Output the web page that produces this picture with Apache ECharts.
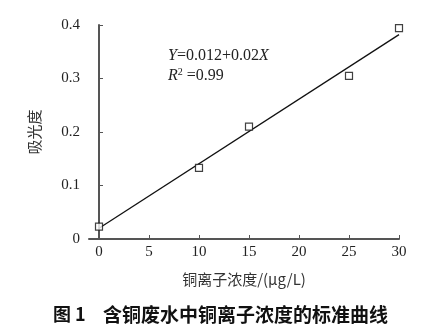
<!DOCTYPE html>
<html><head><meta charset="utf-8">
<script src="https://cdn.jsdelivr.net/npm/echarts@6/dist/echarts.min.js"></script>
<style>html,body{margin:0;padding:0;background:#fff}#c{width:439px;height:333px}</style>
</head><body><div id="c"></div>
<script>
const conc = [0, 10, 15, 25, 30];
const absorb = [0.023, 0.133, 0.21, 0.305, 0.394];
const fitX = [0, 30];
const fitY = [0.02, 0.382];
const xTicks = [0, 5, 10, 15, 20, 25, 30];
const yTicks = [0, 0.1, 0.2, 0.3, 0.4];

const chart = echarts.init(document.getElementById('c'));
const serif = '"Liberation Serif","DejaVu Serif",serif';
const cjk = '"Noto Sans CJK SC",sans-serif';
chart.setOption({
  animation: false,
  grid: {left: 89, right: 40, top: 25, bottom: 94},
  xAxis: {
    type: 'value', min: -1, max: 30,
    axisLine: {lineStyle: {color: '#555', width: 2}},
    axisTick: {inside: true, length: 4, customValues: xTicks, lineStyle: {color: '#555'}},
    axisLabel: {customValues: xTicks, color: '#222', fontFamily: serif, fontSize: 15, margin: 6},
    splitLine: {show: false},
    name: '铜离子浓度/(μg/L)', nameLocation: 'middle', nameGap: 33,
    nameTextStyle: {color: '#333', fontFamily: cjk, fontSize: 15}
  },
  yAxis: {
    type: 'value', min: 0, max: 0.4, interval: 0.1,
    axisLine: {show: true, lineStyle: {color: '#555', width: 2}},
    axisTick: {show: true, inside: true, length: 4, lineStyle: {color: '#555'}},
    axisLabel: {color: '#222', fontFamily: serif, fontSize: 15, margin: 9,
      formatter: v => String(+v.toFixed(1))},
    splitLine: {show: false},
    name: '吸光度', nameLocation: 'middle', nameGap: 47, nameRotate: 90,
    nameTextStyle: {color: '#333', fontFamily: cjk, fontSize: 15}
  },
  series: [
    {type: 'line', data: fitX.map((x, i) => [x, fitY[i]]), symbol: 'none',
     lineStyle: {color: '#111', width: 1.3}, z: 2},
    {type: 'scatter', data: conc.map((x, i) => [x, absorb[i]]), symbol: 'rect', symbolSize: 7,
     itemStyle: {color: '#fff', borderColor: '#111', borderWidth: 1.2}, z: 3}
  ],
  graphic: [
    {type: 'text', left: 168, top: 48, style: {
      text: '{i|Y}=0.012+0.02{i|X}', font: '16px ' + serif, fill: '#222',
      rich: {i: {fontStyle: 'italic', fontFamily: 'Liberation Serif', fontSize: 16, fill: '#222'}}}},
    {type: 'text', left: 168, top: 67, style: {
      text: '{i|R}{s|2} =0.99', font: '16px ' + serif, fill: '#222',
      rich: {i: {fontStyle: 'italic', fontFamily: 'Liberation Serif', fontSize: 16, fill: '#222'},
             s: {fontFamily: 'Liberation Serif', fontSize: 10, verticalAlign: 'top', padding: [0,0,8,0], fill: '#222'}}}},
    {type: 'text', left: 53, top: 305, style: {
      text: '图 1', font: 'bold 18px ' + cjk, fill: '#111'}},
    {type: 'text', left: 103, top: 305, style: {
      text: '含铜废水中铜离子浓度的标准曲线', font: 'bold 19px ' + cjk, fill: '#111'}}
  ]
});
</script></body></html>
